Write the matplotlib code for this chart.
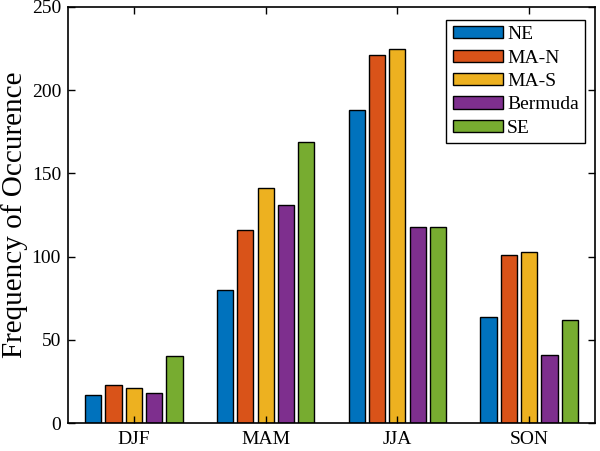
# grouped bar chart - seasonal frequency of occurence by region
import numpy as np
import matplotlib.pyplot as plt

plt.rcParams['font.family'] = ['Liberation Serif', 'DejaVu Serif']

# data
seasons = ['DJF', 'MAM', 'JJA', 'SON']
regions = ['NE', 'MA-N', 'MA-S', 'Bermuda', 'SE']
ne = [17, 80, 188, 64]
ma_n = [23, 116, 221, 101]
ma_s = [21, 141, 225, 103]
bermuda = [18, 131, 118, 41]
se = [40, 169, 118, 62]
colors = ['#0072BD', '#D95319', '#EDB120', '#7E2F8E', '#77AC30']

series = [ne, ma_n, ma_s, bermuda, se]

fig = plt.figure(figsize=(6, 4.51), dpi=100)
ax = fig.add_axes([68/600, 28/451, 527/600, 416/451])

x = np.arange(1, len(seasons) + 1)
step = 0.154
width = 0.123
for i, (vals, name, c) in enumerate(zip(series, regions, colors)):
    offs = (i - 2) * step
    ax.bar(x + offs, vals, width, color=c, edgecolor='black', linewidth=1.0, label=name)

ax.set_xlim(0.5, 4.5)
ax.set_ylim(0, 250)
ax.set_xticks(x)
ax.set_xticklabels(seasons)
ax.set_yticks([0, 50, 100, 150, 200, 250])
ax.tick_params(direction='in', top=True, right=True, length=5, width=1.0, labelsize=14)
ax.tick_params(axis='x', pad=6)
ax.tick_params(axis='y', pad=5)
for s in ax.spines.values():
    s.set_linewidth(1.2)

ax.set_ylabel('Frequency of Occurence', fontsize=21, labelpad=3)

leg = ax.legend(loc='upper right', bbox_to_anchor=(0.981, 0.969), fontsize=14,
                fancybox=False, framealpha=1, edgecolor='black',
                handlelength=2.6, handleheight=0.6, handletextpad=0.2,
                labelspacing=0.33, borderpad=0.32, borderaxespad=0)
leg.get_frame().set_linewidth(1.0)

plt.savefig('out.png', dpi=100)
